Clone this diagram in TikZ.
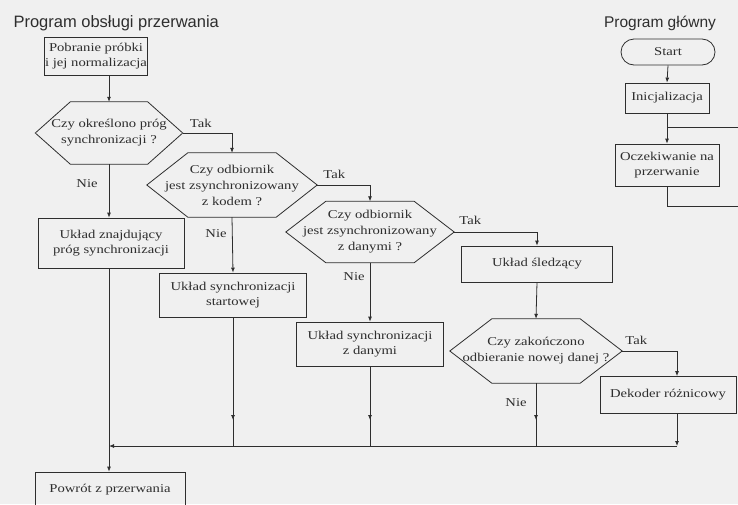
\documentclass[tikz,border=0pt]{standalone}
\usepackage{fontspec}
\setsansfont{Liberation Sans}
\newfontfamily\skan[FakeStretch=1.22]{Liberation Serif}
\usetikzlibrary{arrows.meta,decorations.markings}
\definecolor{tlo}{HTML}{F0F0F0}
\definecolor{tusz}{HTML}{2E2E2E}

\begin{document}
\begin{tikzpicture}[x=1pt,y=-1pt,
  every node/.style={text=tusz},
  blok/.style={draw=tusz,line width=0.8pt,rectangle,align=center,inner sep=1pt,
    font=\skan\fontsize{12}{15}\selectfont},
  prosta/.style={draw=tusz,line width=0.8pt},
  pytanie/.style={rectangle,align=center,inner sep=0pt,
    font=\skan\fontsize{12}{16}\selectfont,
    append after command={\pgfextra{\draw[prosta]
      (\tikzlastnode.west) -- ([xshift=#1]\tikzlastnode.north west)
      -- ([xshift=-#1]\tikzlastnode.north east) -- (\tikzlastnode.east)
      -- ([xshift=-#1]\tikzlastnode.south east)
      -- ([xshift=#1]\tikzlastnode.south west) -- cycle;}}},
  etyk/.style={font=\skan\fontsize{12}{15}\selectfont},
  linia/.style={draw=tusz,line width=0.8pt,-{Latex[length=5pt,width=4pt]}},
  srodek/.style={prosta,postaction=decorate,decoration={markings,
    mark=at position #1 with {\arrow{Latex[length=5pt,width=4pt]}}}}
]
\fill[tlo] (0,0) rectangle (738,504);
\useasboundingbox (0,0) rectangle (738,504);

% tytuly
\node[font=\sffamily\fontsize{16.5}{18}\selectfont,anchor=base west] (tytul1) at (10,27) {Program obsługi przerwania};
\node[font=\sffamily\fontsize{15.5}{18}\selectfont,anchor=base] (tytul2) at (660,27) {Program główny};

% program obslugi przerwania
\node[blok,minimum width=95,minimum height=38] (pob) at (96,56) {Pobranie próbki\\i jej normalizacja};
\node[pytanie=35,minimum width=147,minimum height=62] (q1) at (109,133) {Czy określono próg\\synchronizacji ?};
\node[pytanie=41,minimum width=170,minimum height=64] (q2) at (232,185) {Czy odbiornik\\jest zsynchronizowany\\z kodem ?};
\node[pytanie=40,minimum width=168,minimum height=61] (q3) at (370,232) {Czy odbiornik\\jest zsynchronizowany\\z danymi ?};
\node[blok,minimum width=146,minimum height=50] (zn) at (111,243) {Układ znajdujący\\próg synchronizacji};
\node[blok,minimum width=147,minimum height=44] (st) at (233,295) {Układ synchronizacji\\startowej};
\node[blok,minimum width=147,minimum height=44] (zd) at (370,344) {Układ synchronizacji\\z danymi};
\node[blok,minimum width=151,minimum height=36] (sl) at (537,264) {Układ śledzący};
\node[pytanie=42,minimum width=172,minimum height=64] (q4) at (536,351) {Czy zakończono\\odbieranie nowej danej ?};
\node[blok,minimum width=136,minimum height=37] (dek) at (668,395) {Dekoder różnicowy};
\node[blok,minimum width=150,minimum height=36] (pow) at (110,490) {Powrót z przerwania};

% program glowny
\node[blok,rounded corners=13pt,minimum width=94,minimum height=26] (start) at (668,52) {Start};
\node[blok,minimum width=84,minimum height=30] (ini) at (667,98) {Inicjalizacja};
\node[blok,minimum width=104,minimum height=42] (ocz) at (667,165) {Oczekiwanie na\\przerwanie};

% etykiety
\node[etyk] (t1) at ([shift={(18,-10)}]q1.east) {Tak};
\node[etyk] (t2) at ([shift={(17,-11)}]q2.east) {Tak};
\node[etyk] (t3) at ([shift={(16,-12)}]q3.east) {Tak};
\node[etyk] (t4) at ([shift={(14,-11)}]q4.east) {Tak};
\node[etyk] (n1) at ([shift={(-22,19)}]q1.south) {Nie};
\node[etyk] (n2) at ([shift={(-16,16)}]q2.south) {Nie};
\node[etyk] (n3) at ([shift={(-16,14)}]q3.south) {Nie};
\node[etyk] (n4) at ([shift={(-20,19)}]q4.south) {Nie};

% polaczenia
\coordinate (zbieg) at (109,446);
\coordinate (koniec) at (677,446);
\draw[linia] (q1.north |- pob.south) -- (q1.north);
\draw[linia] (q1.east) -| (q2.north);
\draw[linia] (q2.east) -| (q3.north);
\draw[linia] (q3.east) -| (sl.north);
\draw[linia] (q1.south) -- (q1.south |- zn.north);
\draw[linia] (q2.south) -- (st.north);
\draw[linia] (q3.south) -- (zd.north);
\draw[linia] (sl.south) -- (q4.north);
\draw[linia] (q4.east) -| ([xshift=9]dek.north);
\draw[linia] ([xshift=9]dek.south) -- (koniec);
\draw[srodek=-26pt] (st.south) -- (st.south |- zbieg);
\draw[srodek=-26pt] (zd.south) -- (zd.south |- zbieg);
\draw[srodek=-26pt] (q4.south) -- (q4.south |- zbieg);
\draw[prosta] (zn.south -| zbieg) -- (zbieg);
\draw[linia] (koniec) -- (zbieg);
\draw[linia] (zbieg) -- (zbieg |- pow.north);

% petla programu glownego
\coordinate (wezel) at (667,127);
\coordinate (dol) at (667,206);
\coordinate (rog1) at (742,206);
\coordinate (rog2) at (742,127);
\draw[linia] (start.south) -- (ini.north);
\draw[linia] (ini.south) -- (ocz.north);
\draw[prosta] (ocz.south) -- (dol) -- (rog1) -- (rog2) -- (wezel);
\end{tikzpicture}
\end{document}
